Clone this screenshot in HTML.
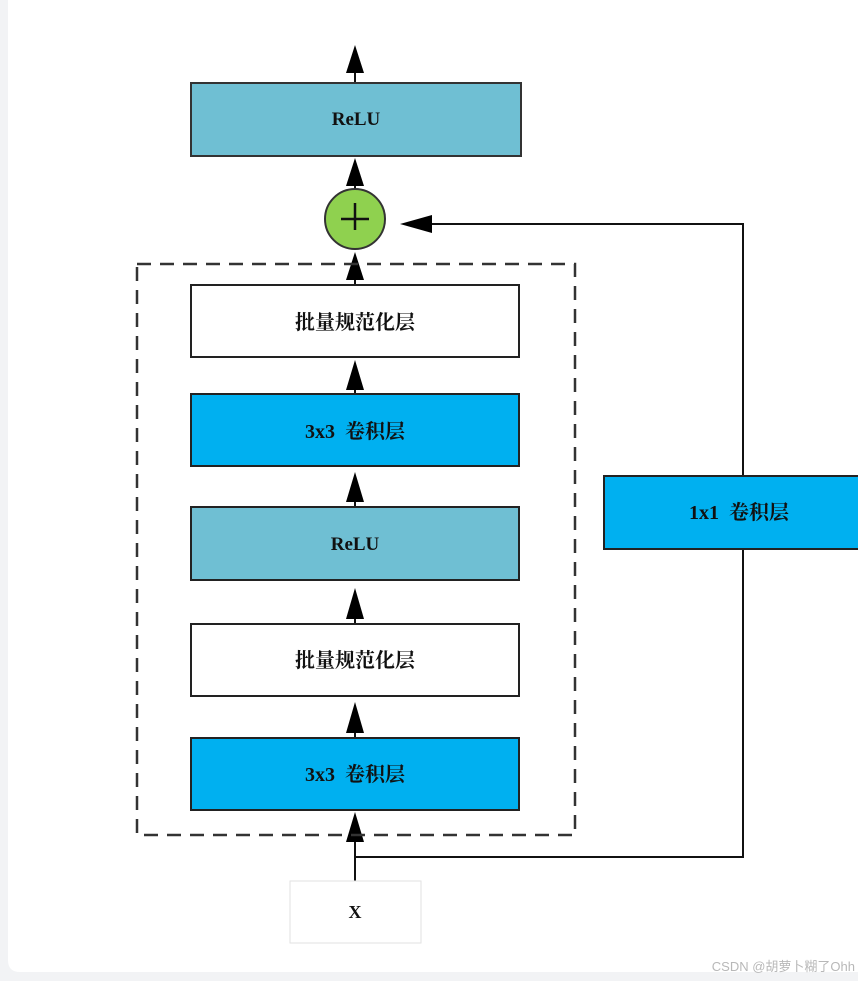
<!DOCTYPE html>
<html><head><meta charset="utf-8"><style>
html,body{margin:0;padding:0;background:#f2f3f5;}
svg{display:block;}
text{font-family:"Liberation Serif","Noto Serif CJK SC",serif;font-weight:bold;fill:#111;}
</style></head><body>
<svg width="858" height="981" viewBox="0 0 858 981" xmlns="http://www.w3.org/2000/svg">
<defs><marker id="a" markerWidth="10" markerHeight="12" refX="5" refY="0" orient="auto" markerUnits="userSpaceOnUse"></marker></defs>
<rect x="0" y="0" width="858" height="981" fill="#f2f3f5"/>
<path d="M8 0 H858 V972 H20 Q8 972 8 960 Z" fill="#fff"/>
<!-- arrows -->
<g stroke="#111" stroke-width="2" fill="none">
<line x1="355" y1="83" x2="355" y2="60"/>
<line x1="355" y1="189" x2="355" y2="170"/>
<line x1="355" y1="284" x2="355" y2="265"/>
<line x1="355" y1="394" x2="355" y2="375"/>
<line x1="355" y1="507" x2="355" y2="488"/>
<line x1="355" y1="624" x2="355" y2="605"/>
<line x1="355" y1="738" x2="355" y2="719"/>
<line x1="355" y1="881" x2="355" y2="830"/>
<polyline points="355,857 743,857 743,224 428,224"/>
</g>
<g fill="#000">
<polygon points="355,45 346,73 364,73"/>
<polygon points="355,158 346,186 364,186"/>
<polygon points="355,252 346,280 364,280"/>
<polygon points="355,360 346,390 364,390"/>
<polygon points="355,472 346,502 364,502"/>
<polygon points="355,588 346,619 364,619"/>
<polygon points="355,702 346,733 364,733"/>
<polygon points="355,812 346,842 364,842"/>
<polygon points="400,224 432,215 432,233"/>
</g>
<!-- dashed box -->
<rect x="137" y="264" width="438" height="571" fill="none" stroke="#333" stroke-width="2.5" stroke-dasharray="14,9"/>
<!-- top relu -->
<rect x="191" y="83" width="330" height="73" fill="#6fbfd3" stroke="#333" stroke-width="2"/>
<text x="356" y="125" font-size="19" text-anchor="middle">ReLU</text>
<circle cx="355" cy="219" r="30" fill="#8fd14f" stroke="#333" stroke-width="2"/>
<line x1="341" y1="219" x2="369" y2="219" stroke="#111" stroke-width="2.5"/>
<line x1="355" y1="203" x2="355" y2="230" stroke="#111" stroke-width="2.5"/>
<!-- inner boxes -->
<g stroke="#222" stroke-width="2">
<rect x="191" y="285" width="328" height="72" fill="#fff"/>
<rect x="191" y="394" width="328" height="72" fill="#00b0f0"/>
<rect x="191" y="507" width="328" height="73" fill="#6fbfd3"/>
<rect x="191" y="624" width="328" height="72" fill="#fff"/>
<rect x="191" y="738" width="328" height="72" fill="#00b0f0"/>
<rect x="604" y="476" width="260" height="73" fill="#00b0f0"/>
</g>
<text x="355" y="329" font-size="20" text-anchor="middle">批量规范化层</text>
<text x="355" y="438" font-size="20" text-anchor="middle">3x3&#160;&#160;卷积层</text>
<text x="355" y="550" font-size="19" text-anchor="middle">ReLU</text>
<text x="355" y="667" font-size="20" text-anchor="middle">批量规范化层</text>
<text x="355" y="781" font-size="20" text-anchor="middle">3x3&#160;&#160;卷积层</text>
<text x="739" y="519" font-size="20" text-anchor="middle">1x1&#160;&#160;卷积层</text>
<!-- X box -->
<rect x="290" y="881" width="131" height="62" fill="#fff" stroke="#e2e2e2" stroke-width="1"/>
<text x="355" y="918" font-size="18" text-anchor="middle">X</text>
<text x="855" y="971" font-size="13" text-anchor="end" style="font-family:'Liberation Sans','Noto Sans CJK SC',sans-serif;font-weight:normal;fill:#b8b8b8">CSDN @胡萝卜糊了Ohh</text>
</svg>
</body></html>
